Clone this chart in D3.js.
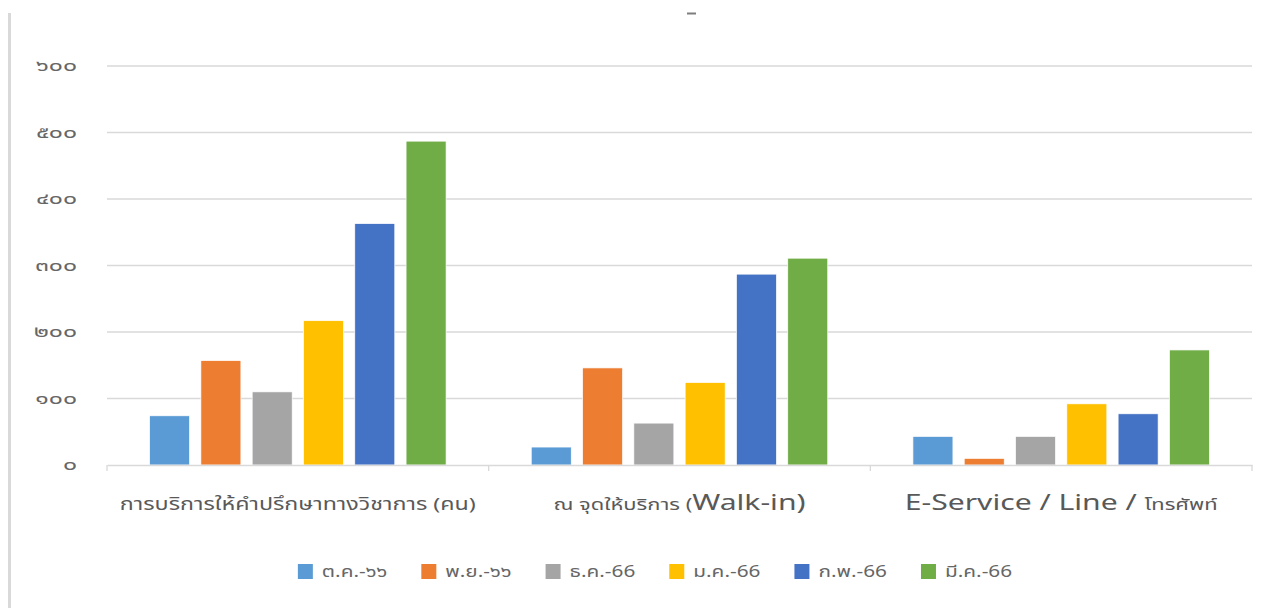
<!DOCTYPE html>
<html>
<head>
<meta charset="utf-8">
<script src="https://cdn.jsdelivr.net/npm/d3@7"></script>
<style>
  body { margin: 0; background: #fff; }
  svg { display: block; font-family: "Noto Sans Thai", "Leelawadee UI", Tahoma, "Open Sans", "Noto Sans", sans-serif; }
</style>
</head>
<body>
<div id="chart"></div>
<script>
// categories (x axis groups)
var categories = ["การบริการให้คำปรึกษาทางวิชาการ (คน)", "ณ จุดให้บริการ (Walk-in)", "E-Service / Line / โทรศัพท์"];
// label pieces, because the original mixes font sizes inside one label
var categoryLabelParts = [
	[["การบริการให้คำปรึกษาทางวิชาการ (คน)", 17]],
	[["ณ จุดให้บริการ (", 16], ["Walk-in)", 22]],
	[["E-Service / Line / ", 22], ["โทรศัพท์", 16]]
];

// months (series)
var seriesNames = ["ต.ค.-๖๖", "พ.ย.-๖๖", "ธ.ค.-66", "ม.ค.-66", "ก.พ.-66", "มี.ค.-66"];
var seriesColors = ["#5B9BD5", "#ED7D31", "#A5A5A5", "#FFC000", "#4472C4", "#70AD47"];

// values, one per category
var octValues = [74, 27, 43];
var novValues = [157, 146, 10];
var decValues = [110, 63, 43];
var janValues = [217, 124, 92];
var febValues = [363, 287, 77];
var marValues = [487, 311, 173];
var seriesValues = [octValues, novValues, decValues, janValues, febValues, marValues];

// y ticks
var yTicks = [0, 100, 200, 300, 400, 500, 600];

var width = 1279, height = 608;
// the original screenshot is stretched sideways, so text gets a wider x scale
var stretch = 1.37;
var thaiDigits = "๐๑๒๓๔๕๖๗๘๙";
function toThai(n) {
	return String(n).replace(/[0-9]/g, function(d) { return thaiDigits[+d]; });
}

var svg = d3.select("#chart").append("svg")
	.attr("width", width)
	.attr("height", height);

// left frame line
svg.append("rect")
	.attr("x", 8).attr("y", 13)
	.attr("width", 3).attr("height", height - 13)
	.style("fill", "#d9d9d9");

// remnant of the title, cut off at the top
svg.append("rect")
	.attr("x", 687).attr("y", 12.5)
	.attr("width", 9).attr("height", 2)
	.style("fill", "#7f7f7f");

var x0 = d3.scaleBand()
	.domain(categories)
	.range([107, 1252])
	.padding(0);

var x1 = d3.scaleBand()
	.domain(seriesNames)
	.range([0, x0.bandwidth()])
	.paddingInner(0.22)
	.paddingOuter(0.83);

var y = d3.scaleLinear()
	.domain([0, 600])
	.range([465, 66]);

// gridlines
svg.append("g")
	.selectAll("line")
	.data(yTicks.filter(function(d) { return d > 0; }))
	.enter().append("line")
	.attr("x1", 107).attr("x2", 1252)
	.attr("y1", function(d) { return y(d); })
	.attr("y2", function(d) { return y(d); })
	.style("stroke", "#d9d9d9")
	.style("stroke-width", 1.3);

// y labels
svg.append("g")
	.selectAll("g")
	.data(yTicks)
	.enter().append("g")
	.attr("transform", function(d) { return "translate(77," + y(d) + ") scale(1.65,1)"; })
	.append("text")
	.attr("dy", "0.35em")
	.attr("text-anchor", "end")
	.style("font-size", "15px")
	.style("fill", "#666666")
	.text(function(d) { return toThai(d); });

// bars
var groups = svg.append("g")
	.selectAll("g")
	.data(categories)
	.enter().append("g")
	.attr("transform", function(d) { return "translate(" + x0(d) + ",0)"; });

groups.selectAll("rect")
	.data(function(c, i) {
		return seriesNames.map(function(s, j) { return {series: s, color: seriesColors[j], value: seriesValues[j][i]}; });
	})
	.enter().append("rect")
	.attr("x", function(d) { return x1(d.series); })
	.attr("y", function(d) { return y(d.value); })
	.attr("width", x1.bandwidth())
	.attr("height", function(d) { return y(0) - y(d.value); })
	.style("fill", function(d) { return d.color; })
	.style("stroke", "#ffffff")
	.style("stroke-width", 0.7);

// x axis line with category ticks
var xAxis = svg.append("g")
	.attr("transform", "translate(0," + y(0) + ")")
	.call(d3.axisBottom(x0).tickSizeInner(0).tickSizeOuter(0).tickFormat(""));
xAxis.select(".domain").style("stroke", "#d9d9d9").style("stroke-width", 1.3);
xAxis.selectAll(".tick").remove();
xAxis.selectAll(".sep")
	.data(categories.concat([null]))
	.enter().append("line")
	.attr("class", "sep")
	.attr("x1", function(d) { return d ? x0(d) : x0.range()[1]; })
	.attr("x2", function(d) { return d ? x0(d) : x0.range()[1]; })
	.attr("y1", 0).attr("y2", 6)
	.style("stroke", "#d9d9d9")
	.style("stroke-width", 1.3);

// category labels
var labels = svg.append("g")
	.selectAll("g")
	.data(categoryLabelParts)
	.enter().append("g")
	.attr("transform", function(d, i) {
		return "translate(" + (x0(categories[i]) + x0.bandwidth() / 2) + ",510) scale(" + stretch + ",1)";
	})
	.append("text")
	.attr("text-anchor", "middle")
	.style("fill", "#595959");
labels.selectAll("tspan")
	.data(function(d) { return d; })
	.enter().append("tspan")
	.style("font-size", function(d) { return d[1] + "px"; })
	.text(function(d) { return d[0]; });

// legend
var legendStretch = 1.3;
var legendGap = 34;
var legend = svg.append("g").attr("class", "legend");
var items = legend.selectAll("g.item")
	.data(seriesNames)
	.enter().append("g")
	.attr("class", "item");
items.append("rect")
	.attr("width", 15).attr("height", 15)
	.attr("y", -13)
	.style("fill", function(d, i) { return seriesColors[i]; });
items.append("g")
	.attr("transform", "translate(24,0) scale(" + legendStretch + ",1)")
	.append("text")
	.style("font-size", "16px")
	.style("fill", "#666666")
	.text(function(d) { return d; });

var offset = 0;
items.each(function() {
	var w = 24 + this.querySelector("text").getComputedTextLength() * legendStretch;
	d3.select(this).attr("transform", "translate(" + offset + ",0)");
	offset += w + legendGap;
});
var legendWidth = offset - legendGap;
legend.attr("transform", "translate(" + (655 - legendWidth / 2) + ",577)");
</script>
</body>
</html>
